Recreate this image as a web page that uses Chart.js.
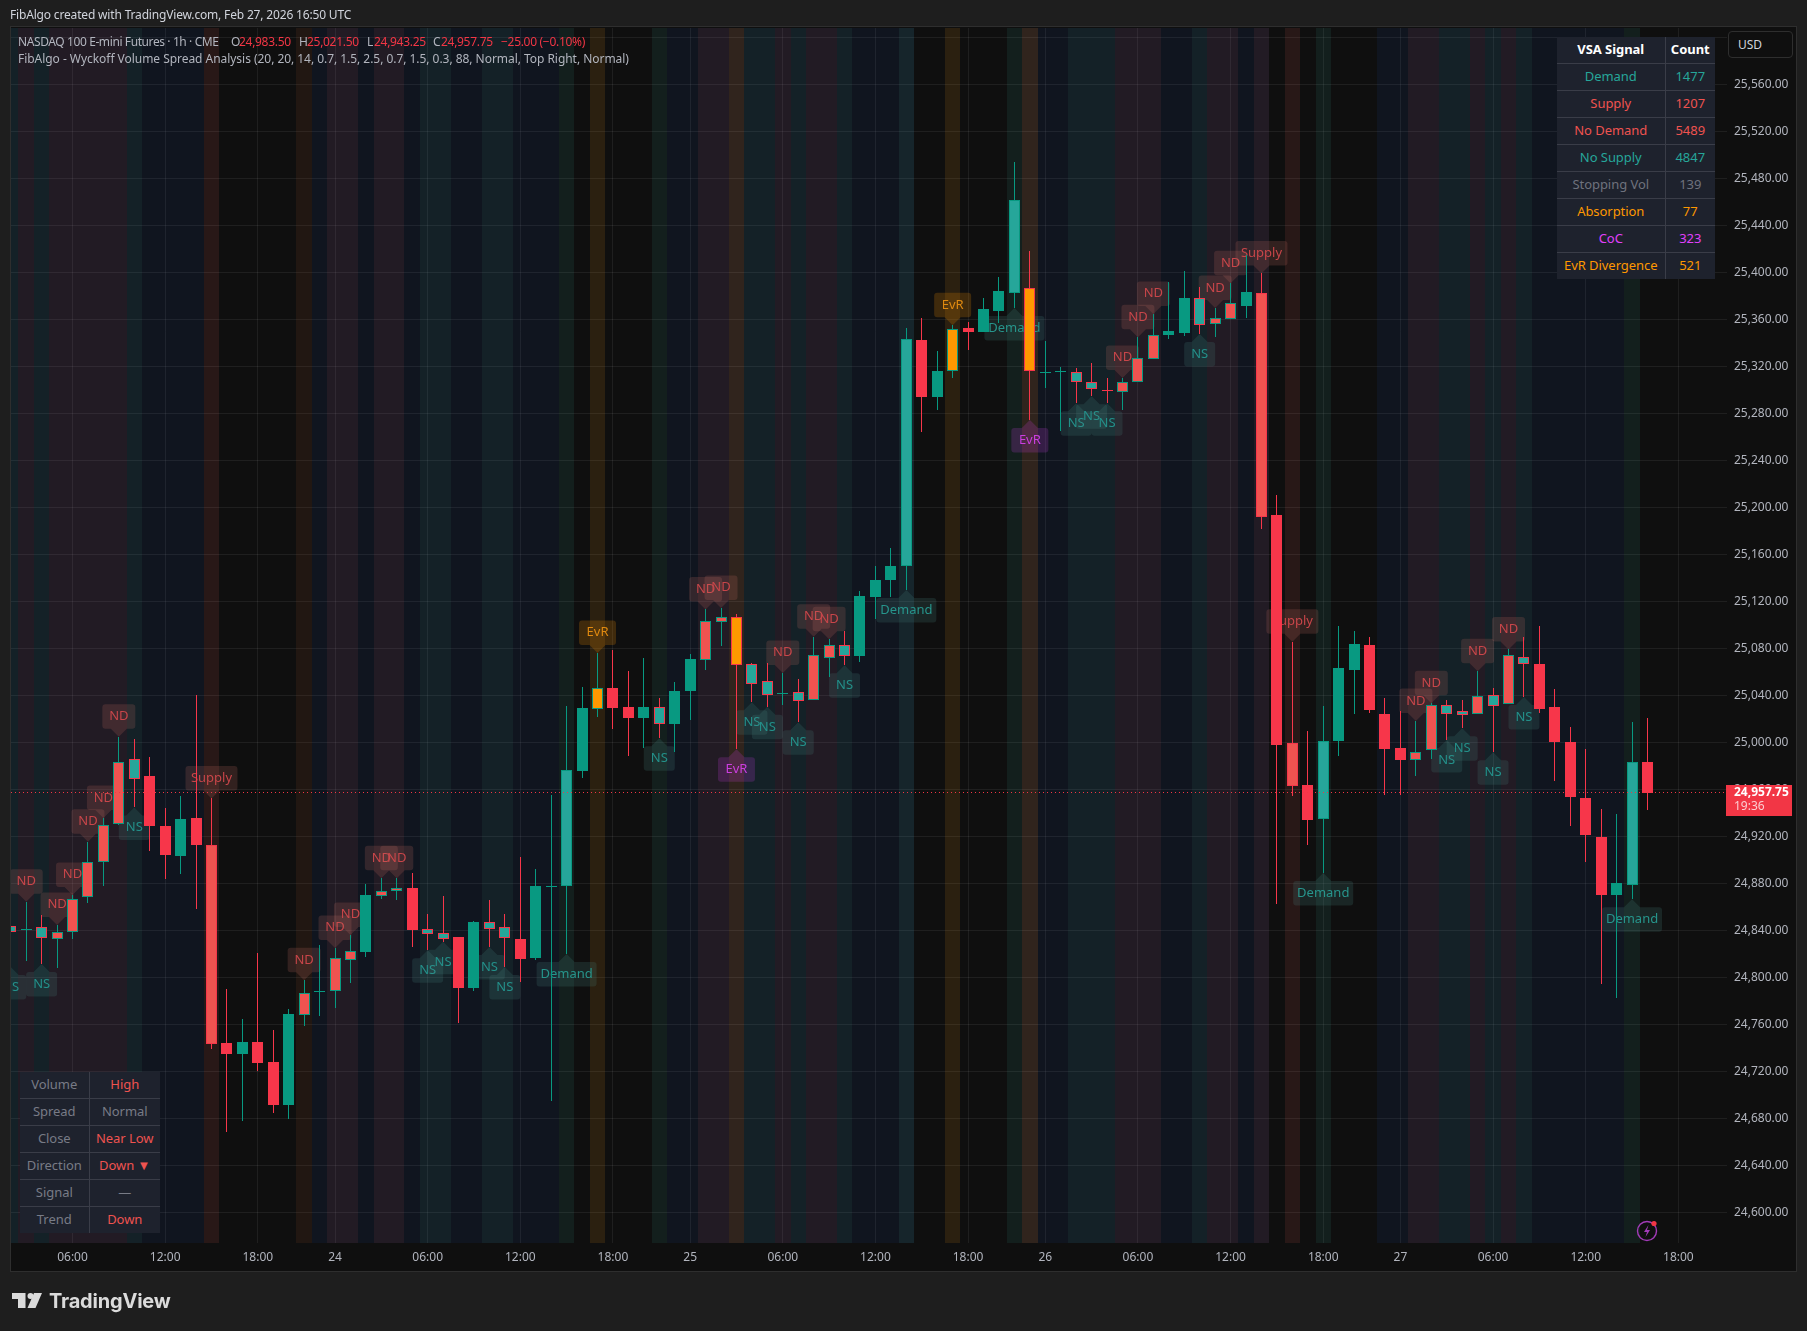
<!DOCTYPE html>
<html>
<head>
<meta charset="utf-8">
<title>NASDAQ 100 E-mini Futures</title>
<script src="https://cdn.jsdelivr.net/npm/chart.js@4"></script>
<style>
  html, body { margin: 0; padding: 0; background: #1e1e1e; width: 1807px; height: 1331px; overflow: hidden; }
  body { position: relative; font-family: "Noto Sans", sans-serif; }
  #pane { position: absolute; left: 10px; top: 26px; width: 1785px; height: 1244px; background: #0f0f0f; border: 1px solid #2e2e2e; }
  canvas { position: absolute; left: 0; top: 0; }
  .txt { position: absolute; white-space: nowrap; font-size: 12px; line-height: 16px; color: #b2b5be; }
  .val { letter-spacing: -0.3px; }
  .red { color: #f23645; }
  table { position: absolute; border-collapse: collapse; background: #1e222d; font-size: 13px; table-layout: fixed; letter-spacing: -0.05px; }
  td { border: 1px solid #3a3d48; padding: 0 0 2px 0; height: 24px; text-align: center; white-space: nowrap; }
  tr:first-child td { border-top: 0; }
  tr:last-child td { border-bottom: 0; }
  td:first-child { border-left: 0; }
  td:last-child { border-right: 0; }
  #usd { position: absolute; left: 1728px; top: 31px; width: 63px; height: 25px; border: 1px solid #2e2e2e; border-radius: 4px; background: #0f0f0f; color: #d1d4dc; font-size: 12px; line-height: 25px; text-indent: 9px; }
  #brand { position: absolute; left: 49px; top: 1286px; font-family: Inter, sans-serif; font-weight: 700; font-size: 20px; line-height: 30px; color: #dbdbdb; letter-spacing: -0.2px; }
</style>
</head>
<body>
<div id="pane"></div>
<canvas id="chart" width="1807" height="1331"></canvas>

<div class="txt" style="left:10px;top:7px;color:#d1d4dc;letter-spacing:-0.17px">FibAlgo created with TradingView.com, Feb 27, 2026 16:50 UTC</div>
<div class="txt" style="left:18px;top:34px;letter-spacing:-0.4px">NASDAQ 100 E-mini Futures · 1h · CME</div>
<div class="txt" style="left:231px;top:34px">O</div><div class="txt red val" style="left:239px;top:34px">24,983.50</div>
<div class="txt" style="left:299px;top:34px">H</div><div class="txt red val" style="left:307px;top:34px">25,021.50</div>
<div class="txt" style="left:367px;top:34px">L</div><div class="txt red val" style="left:374px;top:34px">24,943.25</div>
<div class="txt" style="left:433px;top:34px">C</div><div class="txt red val" style="left:441px;top:34px">24,957.75</div>
<div class="txt red val" style="left:501px;top:34px">−25.00 (−0.10%)</div>
<div class="txt" style="left:18px;top:51px;letter-spacing:-0.04px">FibAlgo - Wyckoff Volume Spread Analysis (20, 20, 14, 0.7, 1.5, 2.5, 0.7, 1.5, 0.3, 88, Normal, Top Right, Normal)</div>

<div id="usd">USD</div>
<table id="vsaTable" style="left:1557px;top:37px;width:158px"></table>
<table id="barTable" style="left:20px;top:1072px;width:140px"></table>

<svg style="position:absolute;left:12px;top:1293px" width="30" height="15" viewBox="0 0 30 15">
  <path d="M0 0H13.5V15H6V6H0Z" fill="#dbdbdb"/><circle cx="18.5" cy="3" r="3" fill="#dbdbdb"/><path d="M30 0L23.5 15H15.5L22 0Z" fill="#dbdbdb"/>
</svg>
<div id="brand">TradingView</div>
<svg style="position:absolute;left:1634px;top:1218px" width="26" height="26" viewBox="0 0 26 26">
  <circle cx="13" cy="13" r="9.5" fill="none" stroke="#a23bb8" stroke-width="1.4"/>
  <path d="M14.5 7L10 14H13L11.5 19L16 12H13Z" fill="#a23bb8"/>
  <circle cx="20" cy="5.5" r="2.6" fill="#f23645"/>
</svg>

<script>
// Barres 1h, de gauche a droite
var opens = [24844.25,24840.5,24843,24833.25,24838.75,24869,24898.75,24931,24986,24971.5,24929.25,24904,24936,24912.75,24744.25,24735,24745.5,24728.25,24691.75,24768.5,24788.25,24789,24815.5,24822,24870,24874,24876.25,24841.25,24838,24834.5,24791.5,24847.25,24843,24832.75,24817,24877.75,24878.5,24976,25029,25046.5,25030.5,25021,25030.5,25016,25044,25070.75,25103,25106.75,25066.75,25052.25,25042,25043,25036.75,25072.5,25083,25073.75,25124,25138.5,25150.75,25342.75,25294.25,25316.5,25353,25349.5,25367.5,25383,25387.5,25315.25,25316,25315.25,25306.75,25300.25,25298.75,25307.25,25326.75,25347,25348.75,25379,25356.5,25361,25371.75,25382.75,25193.75,24999.5,24964,24935.5,25001.5,25062,25083.25,25024.5,24995.5,24985.5,24994,25032,25026.75,25024.75,25040.5,25033.25,25072.75,25067.5,25030.5,25000.75,24953,24919.75,24870.5,24879.25,24983.5];
var closes = [24839.25,24842,24834,24838.75,24867.5,24898.25,24929.75,24983.5,24969.5,24929.5,24904.75,24935,24913.25,24744,24735,24745.5,24727.5,24691.75,24769.25,24786.75,24788.75,24816.5,24822.5,24870.5,24873.5,24876.25,24841,24837.5,24833.25,24791.5,24847.5,24841.75,24833.5,24816.25,24878,24878,24976.75,25029.5,25046.5,25029.5,25021,25030.5,25016.25,25044,25071.25,25103.5,25107.5,25066.5,25050.25,25041,25042.25,25035.75,25074.5,25083,25073.5,25125,25138.5,25150.5,25343.5,25294.25,25316.5,25352,25349.5,25369,25384.5,25462,25316.5,25315.5,25316.25,25307.25,25301.25,25300,25307.5,25327.25,25346.75,25350.5,25378.5,25355.75,25362,25374,25383.5,25192.5,24998,24963.5,24934.25,25002,25063.5,25084,25028,24994.75,24985.25,24992,25032,25024.75,25024,25039.5,25031.5,25074.5,25067.5,25028.75,25000.75,24954,24921.5,24870.5,24880.75,24983.5,24957.75];
var highs = [24857.75,24864.75,24853.5,24845,24870.5,24915.75,24936,25005.25,25003,24988,24944.5,24954.75,25040.75,24952.75,24790.5,24765,24821,24755.5,24773.25,24798,24828,24825.5,24836.5,24879.75,24884.75,24884.75,24889,24854,24869.5,24835,24848.25,24866.25,24854,24902.75,24892.25,24955.5,25031.25,25047.5,25076.5,25079,25061,25072,25038,25051.75,25075.5,25113.5,25114.75,25109.5,25068,25068,25059.5,25054.25,25090.25,25088.25,25095.5,25129.25,25150.5,25165.75,25353,25361.5,25333.5,25355.5,25358,25378.5,25396.5,25494.25,25418.5,25342,25319.75,25319,25323.25,25310.5,25310.5,25345.25,25365,25392,25401.5,25388,25370,25391.25,25415,25399.5,25211,25086,25010,25031.25,25099.5,25095,25090,25038,25027,25018.5,25033.75,25036.5,25036.5,25061,25046.5,25079.5,25090,25099.5,25045.75,25013.5,24994.75,24943.5,24939.5,25017.75,25021.5];
var lows = [24809.25,24814.25,24811.75,24808.5,24833,24864,24878,24930,24945,24908,24884.25,24888.5,24858.75,24739.5,24669,24678.5,24721,24685.25,24679.75,24759,24767.5,24774.25,24795.5,24817.75,24867,24866.25,24826.25,24823.5,24830.75,24761.75,24788.75,24826.25,24809.25,24796.5,24815.5,24695,24820.25,24970,25022.25,25011.75,24988.75,24995.5,25004,24992,25019.5,25062,25082.5,24994.5,25034.5,25030.75,25032,25017.5,25036.5,25056.25,25066,25068.75,25105.25,25124,25130,25264.5,25283.25,25310.5,25334.25,25349.25,25357.25,25370,25274.75,25302,25265.25,25289,25295,25289,25283.25,25307,25326.5,25343.5,25346.25,25348,25345.25,25360.75,25361.5,25182,24862.75,24955,24913,24889.25,24988.75,25024.5,25025.25,24955.5,24955.5,24971.75,24986.25,25002.5,25012.5,25024.5,24992,25033,25039,25025.25,24967.5,24929.25,24898.5,24794.75,24782.75,24867,24943.25];

// Signaux VSA (indices des barres)
var ndBars = [1,3,4,5,6,7,19,21,22,24,25,45,46,50,52,53,72,73,74,78,79,91,92,95,97];
var nsBars = [0,2,8,27,28,31,32,42,48,49,51,54,69,70,71,77,93,94,96,98];
var supplyBars = [13,81,83];
var demandBars = [36,58,65,85,105];
var evrAboveBars = [38,61];
var evrBelowBars = [47,66];

// Fond de chaque barre: b bleu, t turquoise, p violet, s rouge, r brun, d vert, e orange, o orange pale, T turquoise clair, n rien
var bandKinds = ("tptpppppt" + "bbbbs" + "nnnnn" + "rbppbppb" + "ttbbttbbb" + "dnennn" + "dbbppo" + "ttptppt" + "bbbT" + "nnennn" + "dobb" + "tttpppbbtppbp" + "nsndnnn" + "bbppttptpt" + "bbbbbb" + "dn").split("");

var timeTickBars = [4,10,16,21,27,33,39,44,50,56,62,67,73,79,85,90,96,102,108];
var timeTickLabels = ["06:00","12:00","18:00","24","06:00","12:00","18:00","25","06:00","12:00","18:00","26","06:00","12:00","18:00","27","06:00","12:00","18:00"];
var lastPrice = 24957.75;
var priceMin = 24574.35;
var priceMax = 25608.39;
var barMin = 0.016;
var barMax = 111.15;

var vsaNames = ["VSA Signal","Demand","Supply","No Demand","No Supply","Stopping Vol","Absorption","CoC","EvR Divergence"];
var vsaCounts = ["Count","1477","1207","5489","4847","139","77","323","521"];
var vsaColors = ["#ffffff","#26a69a","#ef5350","#ef5350","#26a69a","#6f727d","#ff9800","#e040fb","#ff9800"];
var barNames = ["Volume","Spread","Close","Direction","Signal","Trend"];
var barValues = ["High","Normal","Near Low","Down ▼","—","Down"];
var barColors = ["#ef5350","#787b86","#ef5350","#ef5350","#787b86","#ef5350"];

var bandColors = {
  b: "rgba(28,62,135,0.14)", t: "rgba(55,162,208,0.125)", p: "rgba(168,108,182,0.125)",
  s: "rgba(195,88,75,0.14)", r: "rgba(155,75,42,0.13)", d: "rgba(48,135,122,0.14)",
  e: "rgba(228,142,22,0.135)", o: "rgba(255,168,122,0.14)", T: "rgba(68,182,228,0.13)"
};
var UP = "#089981", DOWN = "#f7364a";

function remplirTable(id, left, right, colors, leftWidth, rightWidth, leftColor) {
  var html = "<colgroup><col style='width:" + leftWidth + "px'><col style='width:" + rightWidth + "px'></colgroup>";
  left.forEach(function (name, i) {
    var c = leftColor || colors[i];
    var w = i === 0 && !leftColor ? "font-weight:700;" : "";
    html += "<tr><td style='" + w + "color:" + c + "'>" + name + "</td><td style='" + w + "color:" + colors[i] + "'>" + right[i] + "</td></tr>";
  });
  document.getElementById(id).innerHTML = html;
}
remplirTable("vsaTable", vsaNames, vsaCounts, vsaColors, 108, 50);
remplirTable("barTable", barNames, barValues, barColors, 69, 71, "#787b86");

function bodyFill(i) {
  if (evrAboveBars.indexOf(i) >= 0 || evrBelowBars.indexOf(i) >= 0) return "#ff9800";
  if (ndBars.indexOf(i) >= 0 || supplyBars.indexOf(i) >= 0) return "#ef5350";
  if (nsBars.indexOf(i) >= 0 || demandBars.indexOf(i) >= 0) return "#26a69a";
  return closes[i] >= opens[i] ? UP : DOWN;
}
function edgeColor(i) {
  return closes[i] >= opens[i] ? UP : DOWN;
}

var bandData = [], bandFill = [];
bandKinds.forEach(function (k, i) {
  if (k !== "n") {
    bandData.push({ x: i, y: [priceMin, priceMax] });
    bandFill.push(bandColors[k]);
  }
});
var wickData = highs.map(function (h, i) { return { x: i, y: [lows[i], h] }; });
var bodyData = opens.map(function (o, i) { return { x: i, y: [o, closes[i]] }; });
var bodyFills = opens.map(function (o, i) { return bodyFill(i); });
var edges = opens.map(function (o, i) { return edgeColor(i); });

var WICK_INDEX = 1;

// Aligne les barres sur les pixels pour garder des traits nets
var snapPlugin = {
  id: "snap",
  beforeDatasetsDraw: function (chart) {
    chart.getDatasetMeta(0).data.forEach(function (el) {
      var l = Math.round(el.x - el.width / 2), r = Math.round(el.x + el.width / 2);
      el.width = r - l;
      el.x = l + el.width / 2;
    });
    [1, 2].forEach(function (d) {
      chart.getDatasetMeta(d).data.forEach(function (el) {
        el.x = Math.floor(el.x) + 0.5;
        var a = Math.round(el.y), b = Math.round(el.base);
        if (a === b) b = a + 1;
        el.y = a;
        el.base = b;
      });
    });
  }
};

var signalStyles = {
  nd: { text: "ND", w: 33, fill: "rgba(200,110,100,0.19)", color: "#c8464a" },
  supply: { text: "Supply", w: 52, fill: "rgba(200,110,100,0.19)", color: "#c8464a" },
  ns: { text: "NS", w: 31, fill: "rgba(80,143,137,0.18)", color: "#24908a" },
  demand: { text: "Demand", w: 60, fill: "rgba(80,143,137,0.18)", color: "#27958c" },
  evrUp: { text: "EvR", w: 37, fill: "rgba(255,152,0,0.2)", color: "#e08a10" },
  evrDown: { text: "EvR", w: 37, fill: "rgba(224,64,251,0.18)", color: "#cc3fe0" }
};

function drawSignal(ctx, x, y, style, above) {
  var dir = above ? -1 : 1, arrow = 8, h = 24.5, w = style.w;
  var near = y + dir * arrow, far = near + dir * h;
  var top = Math.min(near, far);
  ctx.beginPath();
  ctx.roundRect(x - w / 2, top, w, h, 3);
  ctx.moveTo(x - 8, near);
  ctx.lineTo(x, y);
  ctx.lineTo(x + 8, near);
  ctx.closePath();
  ctx.fillStyle = style.fill;
  ctx.fill();
  ctx.fillStyle = style.color;
  ctx.font = "13px 'Noto Sans'";
  ctx.textAlign = "center";
  ctx.textBaseline = "middle";
  ctx.fillText(style.text, x, top + h / 2);
}

// Etiquettes sous les bougies, au-dessus des fonds
var signalPlugin = {
  id: "signals",
  beforeDatasetDraw: function (chart, args) {
    if (args.index !== WICK_INDEX) return;
    var ctx = chart.ctx, a = chart.chartArea, xs = chart.scales.x, ys = chart.scales.y;
    ctx.save();
    ctx.beginPath();
    ctx.rect(a.left, a.top, a.right - a.left, a.bottom - a.top);
    ctx.clip();
    var items = [];
    ndBars.forEach(function (i) { items.push([i, "nd", true]); });
    supplyBars.forEach(function (i) { items.push([i, "supply", true]); });
    evrAboveBars.forEach(function (i) { items.push([i, "evrUp", true]); });
    nsBars.forEach(function (i) { items.push([i, "ns", false]); });
    demandBars.forEach(function (i) { items.push([i, "demand", false]); });
    evrBelowBars.forEach(function (i) { items.push([i, "evrDown", false]); });
    items.sort(function (p, q) { return p[0] - q[0]; });
    items.forEach(function (it) {
      var i = it[0];
      var y = ys.getPixelForValue(it[2] ? highs[i] : lows[i]);
      drawSignal(ctx, xs.getPixelForValue(i), y, signalStyles[it[1]], it[2]);
    });
    ctx.restore();
  }
};

// Etiquette du dernier prix sur l'axe
var lastPricePlugin = {
  id: "lastPrice",
  afterDraw: function (chart) {
    var ctx = chart.ctx, y = chart.scales.y.getPixelForValue(lastPrice);
    var left = chart.chartArea.right - 1;
    ctx.save();
    ctx.fillStyle = "#f23645";
    ctx.fillRect(left, Math.round(y) - 8, 66, 31);
    ctx.textAlign = "left";
    ctx.textBaseline = "middle";
    ctx.fillStyle = "#ffffff";
    ctx.font = "bold 12px 'Noto Sans'";
    ctx.fillText(lastPrice.toLocaleString("en-US", { minimumFractionDigits: 2 }), 1734, y);
    ctx.fillStyle = "rgba(255,255,255,0.75)";
    ctx.font = "12px 'Noto Sans'";
    ctx.fillText("19:36", 1734, y + 14);
    ctx.restore();
  }
};

var gridColor = "rgba(255,255,255,0.07)";

new Chart(document.getElementById("chart").getContext("2d"), {
  type: "bar",
  data: {
    datasets: [
      { label: "Fond", data: bandData, backgroundColor: bandFill, barThickness: 15.44, grouped: false, inflateAmount: 0, borderWidth: 0, order: 4 },
      { label: "Meches", data: wickData, backgroundColor: edges, barThickness: 1, grouped: false, inflateAmount: 0, borderWidth: 0, order: 2 },
      { label: "Corps", data: bodyData, backgroundColor: bodyFills, borderColor: edges, borderWidth: 1, borderSkipped: false, barThickness: 11, grouped: false, inflateAmount: 0, order: 1 },
      { type: "line", label: "Dernier", data: [{ x: barMin, y: lastPrice }, { x: barMax, y: lastPrice }], borderColor: "#f23645", borderWidth: 1, borderDash: [1, 3], pointRadius: 0, order: 0 }
    ]
  },
  options: {
    responsive: false,
    animation: false,
    layout: { padding: { left: 11, top: 28, right: 10, bottom: 61 } },
    plugins: { legend: { display: false }, tooltip: { enabled: false } },
    scales: {
      x: {
        type: "linear",
        offset: false,
        min: barMin,
        max: barMax,
        grid: { color: gridColor, drawTicks: false, offset: false },
        border: { display: false },
        afterFit: function (scale) { scale.height = 27; },
        afterBuildTicks: function (scale) {
          scale.ticks = timeTickBars.map(function (v) { return { value: v }; });
        },
        ticks: {
          autoSkip: false,
          maxRotation: 0,
          padding: 7,
          color: "#b2b5be",
          font: { family: "'Noto Sans'", size: 12 },
          callback: function (v) { return timeTickLabels[timeTickBars.indexOf(v)]; }
        }
      },
      y: {
        position: "right",
        min: priceMin,
        max: priceMax,
        grid: { color: gridColor, drawTicks: false },
        border: { display: false },
        afterFit: function (scale) { scale.width = 70; },
        ticks: {
          stepSize: 40,
          includeBounds: false,
          autoSkip: false,
          padding: 7,
          color: "#b2b5be",
          font: { family: "'Noto Sans'", size: 12 },
          callback: function (v) { return v.toLocaleString("en-US", { minimumFractionDigits: 2 }); }
        }
      }
    }
  },
  plugins: [snapPlugin, signalPlugin, lastPricePlugin]
});
</script>
</body>
</html>
